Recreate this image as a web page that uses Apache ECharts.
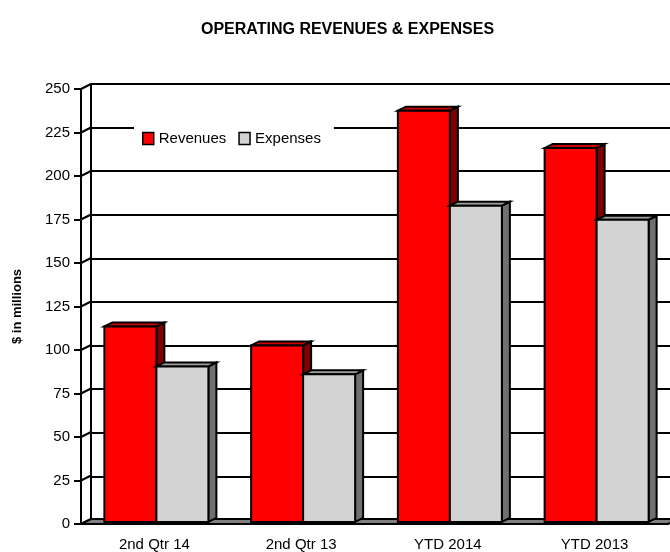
<!DOCTYPE html>
<html>
<head>
<meta charset="utf-8">
<script src="https://cdn.jsdelivr.net/npm/echarts@6/dist/echarts.min.js"></script>
<style>
html, body { margin: 0; padding: 0; background: #fff; }
#chart { width: 670px; height: 552px; }
</style>
</head>
<body>
<div id="chart"></div>
<script>
var categories = ['2nd Qtr 14', '2nd Qtr 13', 'YTD 2014', 'YTD 2013'];
var revenues = [112.4, 101.5, 236.4, 214.9];
var expenses = [89.4, 84.9, 181.8, 173.7];
var yTicks = [0, 25, 50, 75, 100, 125, 150, 175, 200, 225, 250];

var font = '"Liberation Sans", Arial, sans-serif';
var chart = echarts.init(document.getElementById('chart'));

// 3D-ish bar: front face + top + side
function bar3d(dir, face, topColor, sideColor) {
	return function(params, api) {
		var i = api.value(0), v = api.value(1);
		var p = api.coord([i, v]), b = api.coord([i, 0]);
		var w = 52, dx = 8, dy = 4;
		var x0 = (dir < 0 ? p[0] - w : p[0]) + 2;
		var y0 = p[1] - 2, y1 = b[1] - 2;
		var stroke = { stroke: '#000', lineWidth: 2, lineJoin: 'miter' };
		return {
			type: 'group',
			children: [ {
				type: 'polygon',
				shape: { points: [ [x0 + w, y0], [x0 + w + dx, y0 - dy], [x0 + w + dx, y1 - dy], [x0 + w, y1] ] },
				style: Object.assign({ fill: sideColor }, stroke)
			}, {
				type: 'polygon',
				shape: { points: [ [x0, y0], [x0 + dx, y0 - dy], [x0 + w + dx, y0 - dy], [x0 + w, y0] ] },
				style: Object.assign({ fill: topColor }, stroke)
			}, {
				type: 'rect',
				shape: { x: x0, y: y0, width: w, height: y1 - y0 },
				style: Object.assign({ fill: face }, stroke)
			} ]
		};
	};
}

// connectors from front axis ticks to back wall, plus the floor
function frameItem(params, api) {
	var cs = params.coordSys;
	var t = api.value(0);
	var y = api.coord([0, t])[1];
	var children = [ {
		type: 'line',
		shape: { x1: cs.x, y1: y, x2: cs.x + 10, y2: y - 5 },
		style: { stroke: '#000', lineWidth: 2 }
	} ];
	if (t === 0) {
		children.push({
			type: 'polygon',
			shape: { points: [ [cs.x, y], [cs.x + 10, y - 5], [cs.x + cs.width + 10, y - 5], [cs.x + cs.width, y] ] },
			style: { fill: '#808080', stroke: '#000', lineWidth: 2 }
		});
	}
	return { type: 'group', children: children };
}

var option = {
	animation: false,
	backgroundColor: '#fff',
	title: {
		text: 'OPERATING REVENUES & EXPENSES',
		left: 196,
		top: 17,
		textStyle: { fontFamily: font, fontSize: 16, fontWeight: 'bold', color: '#000' }
	},
	legend: {
		data: [ 'Revenues', 'Expenses' ],
		left: 134,
		top: 119,
		padding: [ 12, 13, 9, 8 ],
		backgroundColor: '#fff',
		itemWidth: 11,
		itemHeight: 12,
		itemGap: 12,
		icon: 'rect',
		itemStyle: { borderColor: '#000', borderWidth: 1.5 },
		textStyle: { fontFamily: font, fontSize: 15, color: '#000' },
		z: 10
	},
	grid: [ {
		// front plane
		left: 81, top: 89, width: 587, height: 436
	}, {
		// back wall
		left: 91, top: 84, width: 587, height: 436
	} ],
	xAxis: [ {
		gridIndex: 0,
		type: 'category',
		data: categories,
		axisLine: { lineStyle: { color: '#000', width: 2 } },
		axisTick: { length: 6, lineStyle: { color: '#000', width: 2 } },
		axisLabel: { fontFamily: font, fontSize: 15, color: '#000', margin: 13 }
	}, {
		gridIndex: 1,
		type: 'category',
		data: categories,
		show: false
	} ],
	yAxis: [ {
		gridIndex: 0,
		type: 'value',
		min: 0, max: 250, interval: 25,
		name: '$ in millions',
		nameLocation: 'middle',
		nameGap: 57,
		nameTextStyle: { fontFamily: font, fontSize: 13, fontWeight: 'bold', color: '#000' },
		axisLine: { show: true, lineStyle: { color: '#000', width: 2 } },
		axisTick: { show: true, length: 7, lineStyle: { color: '#000', width: 2 } },
		axisLabel: { fontFamily: font, fontSize: 15, color: '#000', margin: 11 },
		splitLine: { show: false }
	}, {
		gridIndex: 1,
		type: 'value',
		min: 0, max: 250, interval: 25,
		axisLine: { show: true, lineStyle: { color: '#000', width: 2 } },
		axisTick: { show: false },
		axisLabel: { show: false },
		splitLine: { lineStyle: { color: '#000', width: 2 } }
	} ],
	series: [ {
		type: 'custom',
		xAxisIndex: 0, yAxisIndex: 0,
		silent: true,
		z: 1,
		data: yTicks.map(function(t) { return [ t ]; }),
		encode: { y: 0 },
		renderItem: frameItem
	}, {
		name: 'Revenues',
		type: 'custom',
		xAxisIndex: 0, yAxisIndex: 0,
		z: 3,
		itemStyle: { color: '#FF0000' },
		data: revenues.map(function(v, i) { return [ i, v ]; }),
		encode: { x: 0, y: 1 },
		renderItem: bar3d(-1, '#FF0000', '#CC0000', '#800000')
	}, {
		name: 'Expenses',
		type: 'custom',
		xAxisIndex: 0, yAxisIndex: 0,
		z: 3,
		itemStyle: { color: '#D3D3D3' },
		data: expenses.map(function(v, i) { return [ i, v ]; }),
		encode: { x: 0, y: 1 },
		renderItem: bar3d(1, '#D3D3D3', '#A0A0A0', '#707070')
	} ]
};

chart.setOption(option);
</script>
</body>
</html>
